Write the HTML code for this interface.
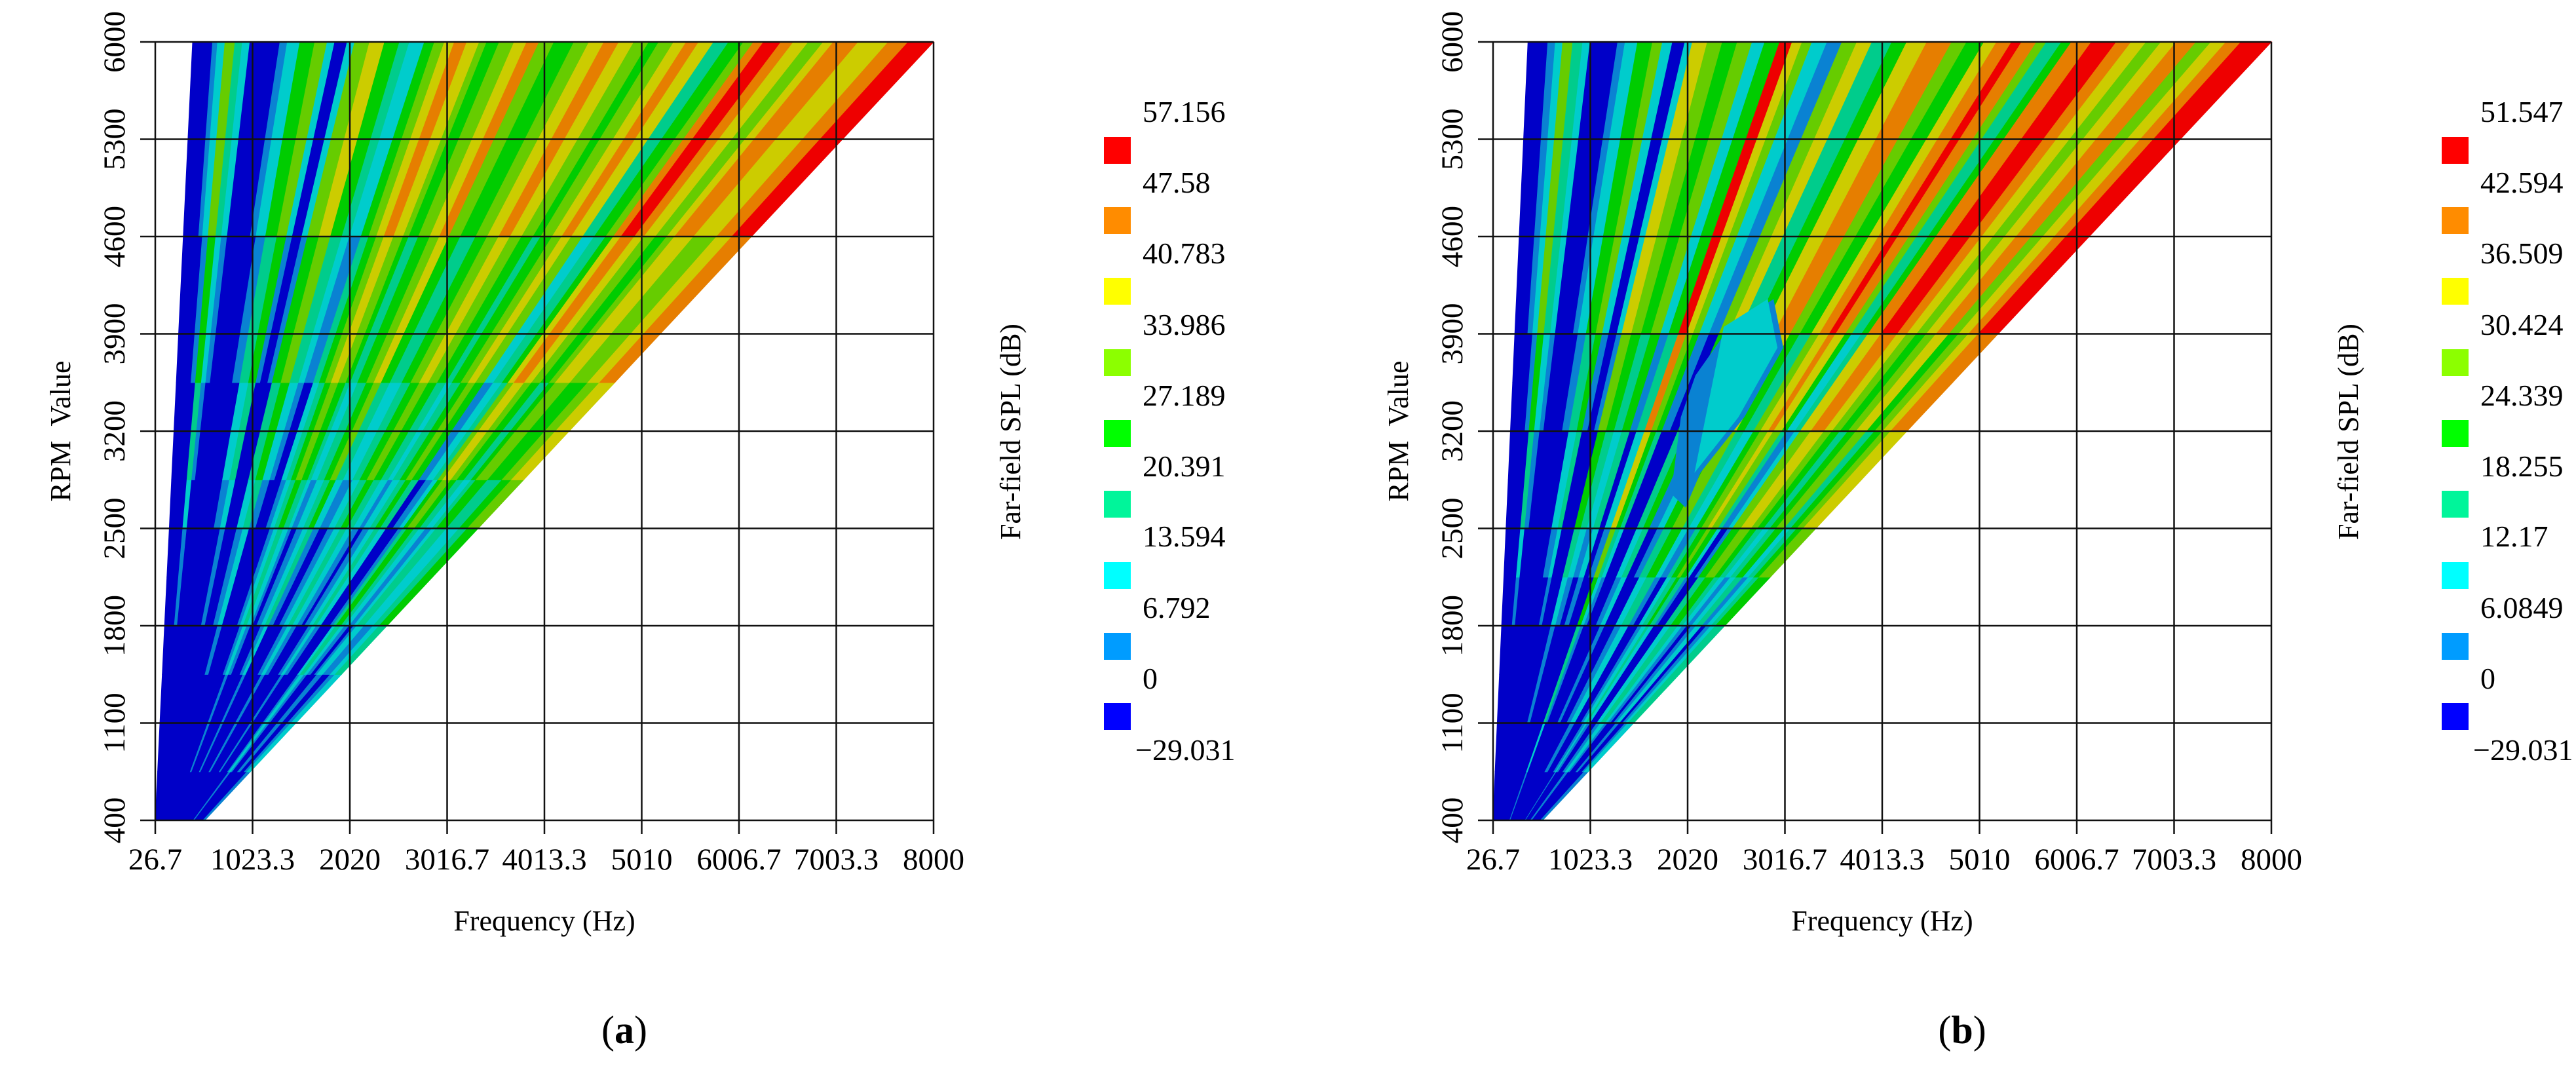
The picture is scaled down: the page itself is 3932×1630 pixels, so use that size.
<!DOCTYPE html>
<html><head><meta charset="utf-8">
<style>
html,body{margin:0;padding:0;background:#fff;}
svg{display:block;}
svg text{font-family:"Liberation Serif","DejaVu Serif",serif;}
</style></head>
<body>
<svg id="fig" width="3932" height="1630" viewBox="0 0 3932 1630" xmlns="http://www.w3.org/2000/svg" font-family="Liberation Serif, serif">
<g id="panelA"></g>
<g id="panelB"></g>
</svg>
<script>
// ---- shared axis data ----
const xTicks = [26.7, 1023.3, 2020, 3016.7, 4013.3, 5010, 6006.7, 7003.3, 8000];
const xTickLabels = ["26.7","1023.3","2020","3016.7","4013.3","5010","6006.7","7003.3","8000"];
const yTicks = [400, 1100, 1800, 2500, 3200, 3900, 4600, 5300, 6000];
const yTickLabels = ["400","1100","1800","2500","3200","3900","4600","5300","6000"];
// rpm segments and level offsets (SPL lower at low rpm)
const rpmSegments = [400, 750, 1100, 1450, 1800, 2150, 2500, 2850, 3200, 3550, 3900, 4600, 5300, 6000];
const rpmOffsetA = [-7, -6, -6, -5, -4, -4, -3, -2, -2, -1, -1, 0, 0];
const rpmOffsetB = [-7, -6, -5, -5, -4, -3, -2, -2, -1, -1, 0, 0, 0];
// bands: frequency (Hz) of band edge at 6000 rpm, and contour level (0..8) of each band
const bandStartA = 410;
const bandEdgesA = [615,666,742,845,921,998,1305,1381,1509,1662,1790,1867,1994,2071,2224,2378,2531,2633,2786,2889,2991,3093,3221,3349,3425,3553,3706,3834,3962,4115,4319,4473,4626,4779,4933,5086,5188,5341,5469,5597,5750,5904,6057,6159,6261,6440,6568,6721,6874,6977,7232,7539,7743,8000];
const bandLevelsA = [0,1,2,5,3,2,0,1,2,4,5,2,0,2,5,6,4,3,2,4,5,6,7,6,5,4,5,6,7,5,4,5,6,7,6,5,4,5,6,7,6,3,4,5,7,8,7,6,5,6,7,6,7,8];
const bandStartB = 385;
const bandEdgesB = [589,666,742,845,947,1023,1305,1381,1509,1662,1764,1867,1994,2071,2224,2378,2531,2684,2812,2965,3093,3195,3297,3451,3604,3757,3911,4115,4268,4473,4728,4881,5060,5188,5341,5444,5597,5699,5852,5955,6159,6415,6568,6721,6874,7028,7232,7385,7539,7692,8000];
const bandLevelsB = [0,1,2,5,3,2,0,1,2,4,5,2,0,2,6,5,4,5,2,4,8,6,5,2,1,5,6,3,4,6,7,5,4,6,7,8,7,5,3,4,7,8,7,6,5,6,7,5,6,7,8];
// legend
const legendLabelsA = ["57.156","47.58","40.783","33.986","27.189","20.391","13.594","6.792","0","\u221229.031"];
const legendLabelsB = ["51.547","42.594","36.509","30.424","24.339","18.255","12.17","6.0849","0","\u221229.031"];
// (b) low-level patch polygon (freq, rpm)
const patchFreqB = [1850,2000,2150,2600,3000,2900,2450,2100,1950];
const patchRpmB  = [2750,2650,2900,3300,3800,4150,3950,3600,3300];

const plotColors = ["#0000c8","#0a82d2","#00cccc","#00cc8c","#00cc00","#66cc00","#cccc00","#e67e00","#ee0000"];
const legendColors = ["#ff0000","#ff8c00","#ffff00","#8cff00","#00ff00","#00f59a","#00ffff","#009cff","#0000ff"];

const NS = "http://www.w3.org/2000/svg";
function mk(tag, attrs, parent){const e=document.createElementNS(NS,tag);for(const k in attrs)e.setAttribute(k,attrs[k]);if(tag==="text")e.setAttribute("font-family","Liberation Serif, serif");parent.appendChild(e);return e;}

function drawPanel(g, ox, start, edges, levels, offsets, legendLabels, letter, patch){
  const X0=237+ox, X1=1425+ox, Y0=1252, Y1=64;
  const fx = f => X0 + (f-26.7)/(8000-26.7)*(X1-X0);
  const ry = r => Y0 - (r-400)/(6000-400)*(Y0-Y1);
  const plot = mk("g",{},g);
  
  
  for(let i=0;i<edges.length;i++){
    const hLo=(i===0?start:edges[i-1])/6000, hHi=edges[i]/6000;
    for(let j=0;j<rpmSegments.length-1;j++){
      const r0=rpmSegments[j], r1=rpmSegments[j+1];
      let lv=Math.max(0,Math.min(8,levels[i]+offsets[j]));
      const lo0=Math.max(26.7,hLo*r0), lo1=Math.max(26.7,hLo*r1);
      const pts=[[fx(lo0),ry(r0)],[fx(hHi*r0),ry(r0)],[fx(hHi*r1),ry(r1)],[fx(lo1),ry(r1)]];
      const p=mk("polygon",{points:pts.map(p=>p[0].toFixed(1)+","+p[1].toFixed(1)).join(" "),fill:plotColors[lv],stroke:plotColors[lv],"stroke-width":"1.2"},plot);
      
      
    }
  }
  if(patch){
    const pp=mk("polygon",{points:patchFreqB.map((f,k)=>fx(f).toFixed(1)+","+ry(patchRpmB[k]).toFixed(1)).join(" "),fill:"#0a82d2"},plot);
    
    
    const pc=mk("polygon",{points:patchFreqB.slice(2,7).map((f,k)=>fx(f-60).toFixed(1)+","+ry(patchRpmB[k+2]).toFixed(1)).join(" "),fill:"#00cccc"},plot);
    
    
  }
  // grid
  const grid=mk("g",{stroke:"#111","stroke-width":"2.5"},g);
  
  
  xTicks.forEach(t=>{const l=mk("line",{x1:fx(t),x2:fx(t),y1:Y1,y2:Y0+21},grid);
    
    });
  yTicks.forEach(t=>{const l=mk("line",{x1:X0-23,x2:X1,y1:ry(t),y2:ry(t)},grid);
    
    });
  xTicks.forEach((t,k)=>{const tx=mk("text",{x:fx(t),y:1327,"font-size":"47","text-anchor":"middle",fill:"#000"},g);tx.textContent=xTickLabels[k];
    
    });
  yTicks.forEach((t,k)=>{const tx=mk("text",{x:0,y:0,"font-size":"47","text-anchor":"middle",fill:"#000",transform:`translate(${190+ox},${ry(t)}) rotate(-90)`},g);tx.textContent=yTickLabels[k];
    
    });
  const xt=mk("text",{x:831+ox,y:1420,"font-size":"44","text-anchor":"middle"},g);xt.textContent="Frequency (Hz)";
  
  
  const yt=mk("text",{x:0,y:0,"font-size":"44","text-anchor":"middle",transform:`translate(${107+ox},658) rotate(-90)`},g);yt.textContent="RPM\u00a0\u00a0Value";
  
  
  // legend
  const lg=mk("g",{},g);
  
  
  const sw=[209,316,424,533,641,749,858,966,1073];
  legendColors.forEach((c,k)=>{const r=mk("rect",{x:1685+ox,y:sw[k],width:41,height:41,fill:c},lg);
    
    });
  const lc=[170,278,386,495,603,711,818,927,1035,1144];
  legendLabels.forEach((s,k)=>{const tx=mk("text",{x:(k===9?1733:1744)+ox,y:lc[k]+16,"font-size":"46",fill:"#000"},lg);tx.textContent=s;
    
    });
  const ct=mk("text",{x:0,y:0,"font-size":"44","text-anchor":"middle",transform:`translate(${1557+ox},659) rotate(-90)`},g);ct.textContent="Far-field SPL (dB)";
  
  
  const pl=mk("text",{x:953+ox,y:1592,"font-size":"60","text-anchor":"middle"},g);
  pl.innerHTML='(<tspan font-weight="bold">'+letter+'</tspan>)';
  
  
}
drawPanel(document.getElementById('panelA'),0,bandStartA,bandEdgesA,bandLevelsA,rpmOffsetA,legendLabelsA,'a',false);
drawPanel(document.getElementById('panelB'),2042,bandStartB,bandEdgesB,bandLevelsB,rpmOffsetB,legendLabelsB,'b',true);
</script>
</body></html>
